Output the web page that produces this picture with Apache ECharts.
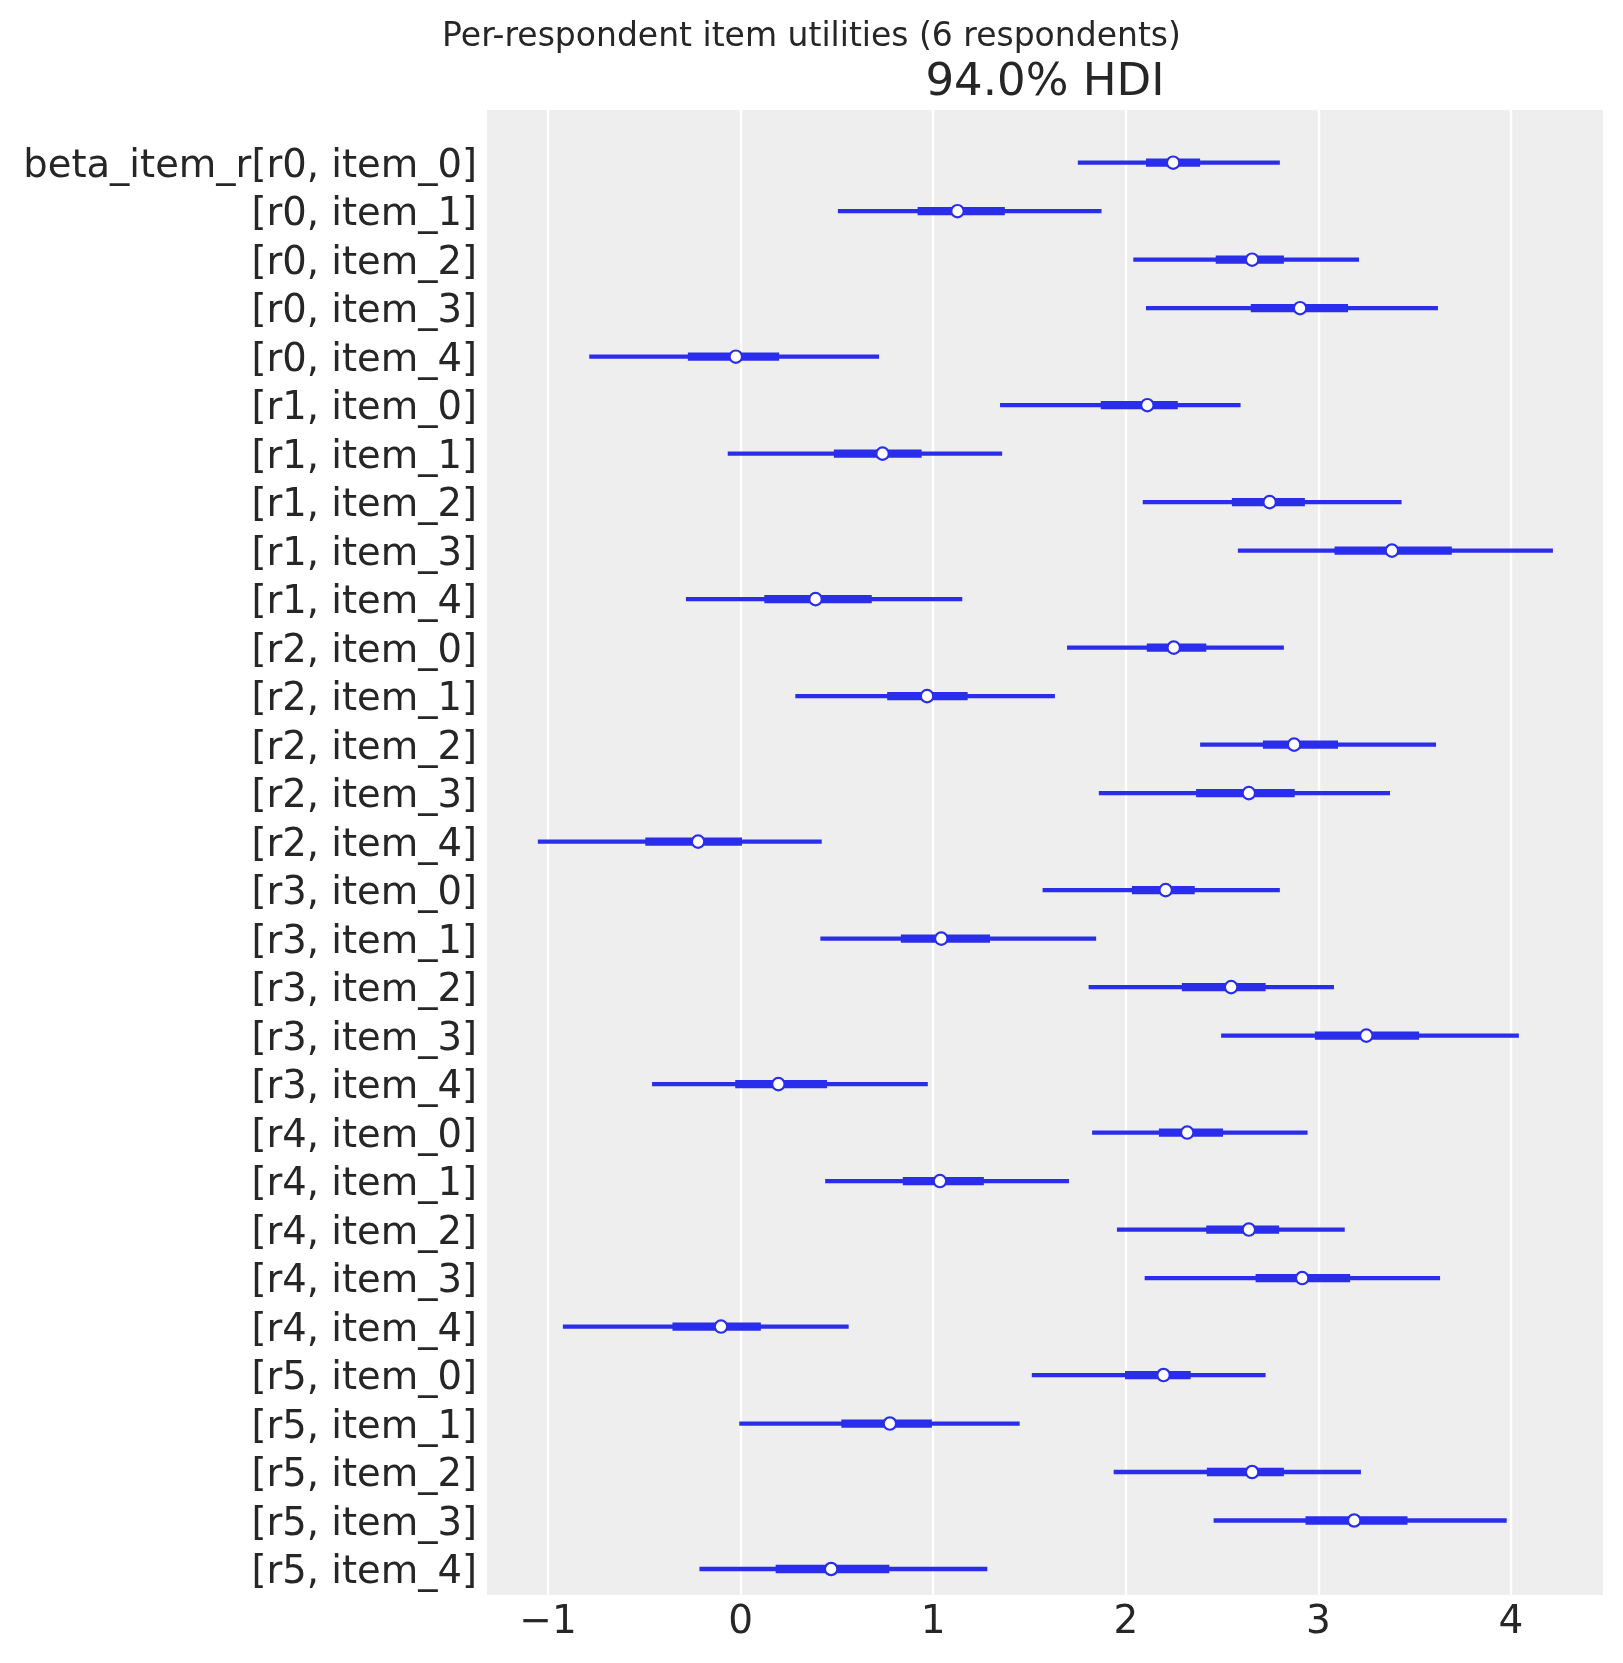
<!DOCTYPE html>
<html>
<head>
<meta charset="utf-8">
<script src="https://cdn.jsdelivr.net/npm/echarts@6/dist/echarts.min.js"></script>
<style>
  html, body { margin: 0; padding: 0; background: #ffffff; }
  #chart { width: 1623px; height: 1663px; }
</style>
</head>
<body>
<div id="chart"></div>
<script>
// Row labels (top to bottom)
const labels = [
  'beta_item_r[r0, item_0]', '[r0, item_1]', '[r0, item_2]', '[r0, item_3]', '[r0, item_4]',
  '[r1, item_0]', '[r1, item_1]', '[r1, item_2]', '[r1, item_3]', '[r1, item_4]',
  '[r2, item_0]', '[r2, item_1]', '[r2, item_2]', '[r2, item_3]', '[r2, item_4]',
  '[r3, item_0]', '[r3, item_1]', '[r3, item_2]', '[r3, item_3]', '[r3, item_4]',
  '[r4, item_0]', '[r4, item_1]', '[r4, item_2]', '[r4, item_3]', '[r4, item_4]',
  '[r5, item_0]', '[r5, item_1]', '[r5, item_2]', '[r5, item_3]', '[r5, item_4]'
];
// 94% HDI bounds (thin line)
const hdiLow = [
  1.751, 0.505, 2.039, 2.105, -0.786,
  1.347, -0.067, 2.088, 2.582, -0.284,
  1.695, 0.284, 2.386, 1.860, -1.053,
  1.568, 0.414, 1.807, 2.495, -0.460,
  1.825, 0.439, 1.954, 2.098, -0.923,
  1.512, -0.007, 1.937, 2.456, -0.214
];
const hdiHigh = [
  2.800, 1.874, 3.211, 3.621, 0.719,
  2.596, 1.358, 3.432, 4.218, 1.151,
  2.821, 1.632, 3.611, 3.372, 0.421,
  2.800, 1.846, 3.081, 4.041, 0.972,
  2.944, 1.705, 3.137, 3.632, 0.561,
  2.726, 1.449, 3.221, 3.978, 1.281
];
// Inner interval bounds (thick line)
const innerLow = [
  2.105, 0.919, 2.467, 2.649, -0.274,
  1.870, 0.484, 2.551, 3.084, 0.123,
  2.109, 0.761, 2.712, 2.365, -0.495,
  2.032, 0.832, 2.291, 2.982, -0.028,
  2.172, 0.842, 2.418, 2.674, -0.354,
  1.996, 0.523, 2.421, 2.933, 0.182
];
const innerHigh = [
  2.386, 1.372, 2.821, 3.154, 0.200,
  2.270, 0.940, 2.930, 3.693, 0.681,
  2.418, 1.179, 3.102, 2.877, 0.007,
  2.358, 1.295, 2.726, 3.523, 0.449,
  2.505, 1.263, 2.796, 3.165, 0.105,
  2.337, 0.993, 2.821, 3.463, 0.772
];
// Point estimates (circles)
const median = [
  2.246, 1.126, 2.656, 2.905, -0.025,
  2.112, 0.737, 2.747, 3.382, 0.389,
  2.249, 0.968, 2.874, 2.639, -0.221,
  2.207, 1.042, 2.547, 3.249, 0.196,
  2.319, 1.035, 2.639, 2.916, -0.102,
  2.196, 0.775, 2.656, 3.186, 0.470
];
const xTicks = [-1, 0, 1, 2, 3, 4];

const BLUE = '#2a2eec';
const TEXT = '#262626';
const FONT = 'DejaVu Sans';

const rowIdx = labels.map((_, i) => i);
const seriesData = rowIdx.map(i => [i, hdiLow[i], hdiHigh[i], innerLow[i], innerHigh[i], median[i]]);

const chart = echarts.init(document.getElementById('chart'), null, { renderer: 'canvas' });

chart.setOption({
  backgroundColor: '#ffffff',
  animation: false,
  title: [
    {
      text: 'Per-respondent item utilities (6 respondents)',
      left: 'center',
      top: 21,
      padding: 0,
      textStyle: { fontFamily: FONT, fontSize: 33, fontWeight: 'normal', color: TEXT }
    },
    {
      text: '94.0% HDI',
      left: 1045,
      textAlign: 'center',
      top: 61,
      padding: 0,
      textStyle: { fontFamily: FONT, fontSize: 45, fontWeight: 'normal', color: TEXT }
    }
  ],
  grid: {
    left: 487, top: 110, width: 1116, height: 1485,
    show: true, backgroundColor: '#eeeeee', borderWidth: 0
  },
  xAxis: {
    type: 'value',
    min: -1.317,
    max: 4.478,
    axisLine: { show: false },
    axisTick: { show: false, customValues: xTicks },
    splitLine: { show: true, lineStyle: { color: '#ffffff', width: 2.4 } },
    axisLabel: {
      customValues: xTicks,
      margin: 8,
      fontFamily: FONT, fontSize: 39, color: TEXT,
      formatter: v => (v < 0 ? '\u2212' + Math.abs(v) : String(v))
    }
  },
  yAxis: {
    type: 'value',
    inverse: true,
    min: -1.087,
    max: 29.536,
    axisLine: { show: false },
    axisTick: { show: false, customValues: rowIdx },
    splitLine: { show: false },
    axisLabel: {
      customValues: rowIdx,
      margin: 10,
      verticalAlign: 'top',
      lineHeight: 8,
      fontFamily: FONT, fontSize: 38.5, color: TEXT,
      formatter: v => labels[Math.round(v)] || ''
    }
  },
  series: [{
    type: 'custom',
    data: seriesData,
    encode: { x: [1, 2, 3, 4, 5], y: 0 },
    renderItem: function (params, api) {
      const row = api.value(0);
      const a = api.coord([api.value(1), row]);
      const b = api.coord([api.value(2), row]);
      const c = api.coord([api.value(3), row]);
      const d = api.coord([api.value(4), row]);
      const m = api.coord([api.value(5), row]);
      return {
        type: 'group',
        children: [
          { type: 'line', shape: { x1: a[0], y1: a[1], x2: b[0], y2: b[1] },
            style: { stroke: BLUE, lineWidth: 4.3 } },
          { type: 'line', shape: { x1: c[0], y1: c[1], x2: d[0], y2: d[1] },
            style: { stroke: BLUE, lineWidth: 8.3 } },
          { type: 'circle', shape: { cx: m[0], cy: m[1], r: 6.2 },
            style: { fill: '#ffffff', stroke: BLUE, lineWidth: 2.2 } }
        ]
      };
    }
  }]
});
</script>
</body>
</html>
